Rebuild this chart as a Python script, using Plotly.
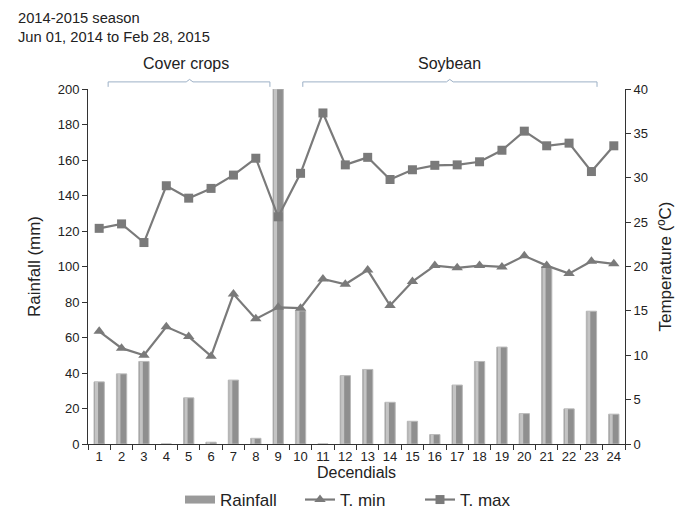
import plotly.graph_objects as go

decendials = [str(i) for i in range(1, 25)]
rainfall = [35, 39.5, 46.5, 0, 26, 1, 36, 3.2, 200, 75, 0, 38.5,
            42, 23.5, 12.8, 5.3, 33.2, 46.5, 54.6, 17.1, 100, 19.8, 74.8, 16.8]
t_min = [12.7, 10.8, 10.0, 13.2, 12.1, 9.9, 16.9, 14.1, 15.4, 15.3, 18.6, 18.0,
         19.6, 15.6, 18.3, 20.1, 19.85, 20.1, 19.95, 21.2, 20.1, 19.2, 20.6, 20.3]
t_max = [24.3, 24.8, 22.7, 29.1, 27.7, 28.8, 30.3, 32.2, 25.6, 30.5, 37.3, 31.45,
         32.3, 29.8, 30.9, 31.4, 31.45, 31.8, 33.1, 35.25, 33.6, 33.9, 30.7, 33.6]

line_col = "#7a7a7a"
fam = "Liberation Sans, Arial, sans-serif"
font = dict(family=fam, size=13, color="#222")

fig = go.Figure()
fig.add_trace(go.Bar(x=decendials, y=rainfall, name="Rainfall", width=0.46, showlegend=False,
                     marker=dict(color="#8f8f8f", line=dict(color="#b8b8b8", width=1)),
                     yaxis="y"))
fig.add_trace(go.Bar(x=decendials, y=rainfall, showlegend=False, width=0.14, offset=-0.19,
                     marker=dict(color="#c4c4c4", line=dict(width=0)), hoverinfo="skip",
                     yaxis="y"))
# legend-only entry so the Rainfall key looks like a wide bar, as in the original
fig.add_trace(go.Scatter(x=[None], y=[None], name="Rainfall", mode="lines",
                         line=dict(color="#9a9a9a", width=8), yaxis="y"))
fig.add_trace(go.Scatter(x=decendials, y=t_min, name="T. min", mode="lines+markers",
                         line=dict(color=line_col, width=2.2),
                         marker=dict(symbol="triangle-up", size=10, color=line_col),
                         yaxis="y2"))
fig.add_trace(go.Scatter(x=decendials, y=t_max, name="T. max", mode="lines+markers",
                         line=dict(color=line_col, width=2.2),
                         marker=dict(symbol="square", size=9, color=line_col),
                         yaxis="y2"))

bracket_col = "#9cb0c6"
shapes = []
for x0, xm, x1 in [(0.4, 4.04, 7.63), (9.1, 15.67, 22.25)]:
    path = (f"M {x0},1.006 L {x0},1.02 L {xm-0.15},1.02 L {xm},1.027 "
            f"L {xm+0.15},1.02 L {x1},1.02 L {x1},1.006")
    shapes.append(dict(type="path", path=path, xref="x", yref="paper",
                       line=dict(color=bracket_col, width=1)))

annotations = [
    dict(text="Cover crops", x=3.9, y=(444 - 65) / 354, xref="x", yref="paper",
         showarrow=False, yanchor="middle",
         font=dict(size=16, color="#222", family=fam)),
    dict(text="Soybean", x=15.67, y=(444 - 65) / 354, xref="x", yref="paper",
         showarrow=False, yanchor="middle",
         font=dict(size=16, color="#222", family=fam)),
    dict(text="2014-2015 season<br>Jun 01, 2014 to Feb 28, 2015",
         x=(16 - 88) / 537, y=(444 - 9) / 354,
         xref="paper", yref="paper", showarrow=False, align="left",
         xanchor="left", yanchor="top", font=dict(size=14.7, color="#222", family=fam)),
]

# page has an 8px body margin; compensate so the plot area lands at x 88-625, y 89-444
fig.update_layout(
    width=677, height=503,
    margin=dict(l=80, r=60, t=81, b=67),
    paper_bgcolor="white", plot_bgcolor="white",
    font=font,
    barmode="overlay",
    showlegend=True,
    legend=dict(orientation="h", x=(180 - 88) / 537, xanchor="left", xref="paper",
                yref="container", y=1 - 492 / 503, yanchor="middle",
                entrywidth=75, entrywidthmode="pixels",
                font=dict(size=17, color="#222"), tracegroupgap=0),
    xaxis=dict(type="category", range=[-0.5, 23.5], showline=True, linecolor="#333",
               linewidth=1, ticks="outside", ticklen=5, tickcolor="#333",
               tickson="boundaries", showgrid=False, tickangle=0, automargin=False,
               title=dict(text="Decendials", font=dict(size=16), standoff=0),
               tickfont=dict(size=13)),
    yaxis=dict(range=[0, 200], dtick=20, showline=True, linecolor="#333", linewidth=1,
               ticks="outside", ticklen=5, tickcolor="#333", showgrid=False, automargin=False,
               title=dict(text="Rainfall (mm)", font=dict(size=17), standoff=12),
               zeroline=False),
    yaxis2=dict(range=[0, 40], dtick=5, overlaying="y", side="right", showline=True,
                linecolor="#333", linewidth=1, ticks="outside", ticklen=5, tickcolor="#333",
                showgrid=False, zeroline=False, automargin=False,
                title=dict(text="Temperature (ºC)", font=dict(size=17), standoff=12)),
    shapes=shapes,
    annotations=annotations,
)

fig.write_html("out.html")
